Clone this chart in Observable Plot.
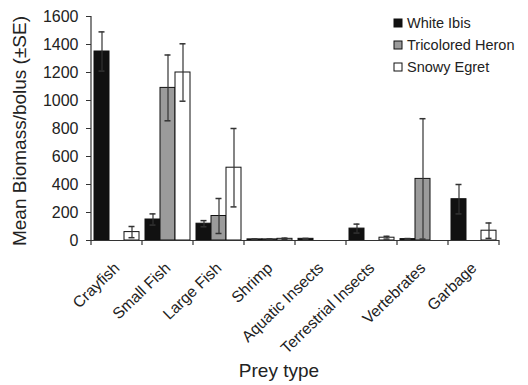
<!DOCTYPE html>
<html>
<head>
<meta charset="utf-8">
<script src="https://cdn.jsdelivr.net/npm/d3@7"></script>
<script src="https://cdn.jsdelivr.net/npm/@observablehq/plot@0.6"></script>
<style>
  html, body { margin: 0; padding: 0; background: #fff; }
  #chart { position: relative; width: 528px; height: 385px; }
</style>
</head>
<body>
<div id="chart"></div>
<script>
const categories = ["Crayfish", "Small Fish", "Large Fish", "Shrimp", "Aquatic Insects", "Terrestrial Insects", "Vertebrates", "Garbage"];
const series = ["White Ibis", "Tricolored Heron", "Snowy Egret"];
const whiteIbis     = [1350, 150, 120,  8, 12, 85,  10, 295];
const whiteIbisSE   = [ 140,  40,  22,  3,  3, 32,   4, 105];
const tricolored    = [   0, 1090, 175, 8,  0,  0, 440,   0];
const tricoloredSE  = [   0, 235, 125,  3,  0,  0, 430,   0];
const snowyEgret    = [  60, 1200, 520, 12, 0, 20,   0,  70];
const snowyEgretSE  = [  40, 205, 280,  5,  0, 10,   0,  55];
const yTicks = [0, 200, 400, 600, 800, 1000, 1200, 1400, 1600];
const colors = ["#111111", "#9b9b9b", "#ffffff"];

const seriesValues = [whiteIbis, tricolored, snowyEgret];
const seriesSE = [whiteIbisSE, tricoloredSE, snowyEgretSE];
const data = [];
categories.forEach((c, i) => {
  series.forEach((s, j) => {
    data.push({cat: c, series: s, value: seriesValues[j][i], se: seriesSE[j][i]});
  });
});
const err = data.filter(d => d.se > 0);

const font = "'Liberation Sans', Arial, sans-serif";

const plot = Plot.plot({
  width: 528,
  height: 385,
  marginLeft: 88,
  marginRight: 26,
  marginTop: 16,
  marginBottom: 145,
  style: {fontFamily: font, fontSize: "16px", color: "#222", background: "#fff"},
  fx: {domain: categories, padding: 0, label: null},
  x: {domain: series, paddingInner: 0, paddingOuter: 0.1, axis: null},
  y: {domain: [0, 1600], label: null},
  color: {domain: series, range: colors},
  marks: [
    Plot.barY(data, {fx: "cat", x: "series", y: "value", fill: "series", stroke: "#111", strokeWidth: 1}),
    Plot.ruleX(err, {fx: "cat", x: "series", y1: d => d.value - d.se, y2: d => d.value + d.se, stroke: "#333", strokeWidth: 1.2}),
    Plot.tickY(err, {fx: "cat", x: "series", y: d => d.value + d.se, stroke: "#333", strokeWidth: 1.5, insetLeft: 4.5, insetRight: 4.5}),
    Plot.tickY(err, {fx: "cat", x: "series", y: d => d.value - d.se, stroke: "#333", strokeWidth: 1.5, insetLeft: 4.5, insetRight: 4.5}),
    Plot.ruleY([0], {stroke: "#333", strokeWidth: 1.2}),
    Plot.axisY({ticks: yTicks, tickFormat: d => String(d), tickSize: 5, tickPadding: 8, fontSize: 16, label: null, stroke: "#333"}),
    Plot.axisFx({anchor: "bottom", tickRotate: -44, tickSize: 0, tickPadding: 25, fontSize: 15.7, label: null})
  ]
});

document.getElementById("chart").appendChild(plot);

const svg = d3.select(plot);
const fx = plot.scale("fx");
const y = plot.scale("y");
const y0 = y.apply(0);
const x0 = fx.apply(categories[0]);
const bw = fx.bandwidth;

// y axis line
svg.append("line")
  .attr("x1", x0).attr("x2", x0)
  .attr("y1", y0).attr("y2", y.apply(1600))
  .attr("stroke", "#333").attr("stroke-width", 1.2);

// boundary ticks on x axis
const bounds = categories.map(c => fx.apply(c)).concat([fx.apply(categories[categories.length - 1]) + bw]);
svg.append("g").selectAll("line").data(bounds).join("line")
  .attr("x1", d => d).attr("x2", d => d)
  .attr("y1", y0).attr("y2", y0 + 5)
  .attr("stroke", "#333").attr("stroke-width", 1.2);

// axis titles
svg.append("text")
  .attr("transform", `translate(26, 131) rotate(-90)`)
  .attr("text-anchor", "middle")
  .attr("font-family", font).attr("font-size", 19).attr("fill", "#222")
  .text("Mean Biomass/bolus (±SE)");

svg.append("text")
  .attr("x", 279).attr("y", 377)
  .attr("text-anchor", "middle")
  .attr("font-family", font).attr("font-size", 19).attr("fill", "#222")
  .text("Prey type");

// legend
const leg = svg.append("g").attr("font-family", font).attr("font-size", 14.5).attr("fill", "#222").attr("text-anchor", "start");
series.forEach((s, i) => {
  const cy = 23 + i * 22;
  leg.append("rect")
    .attr("x", 394).attr("y", cy - 4).attr("width", 8).attr("height", 8)
    .attr("fill", colors[i]).attr("stroke", "#111").attr("stroke-width", 1);
  leg.append("text").attr("x", 407).attr("y", cy + 5).text(s);
});
</script>
</body>
</html>
